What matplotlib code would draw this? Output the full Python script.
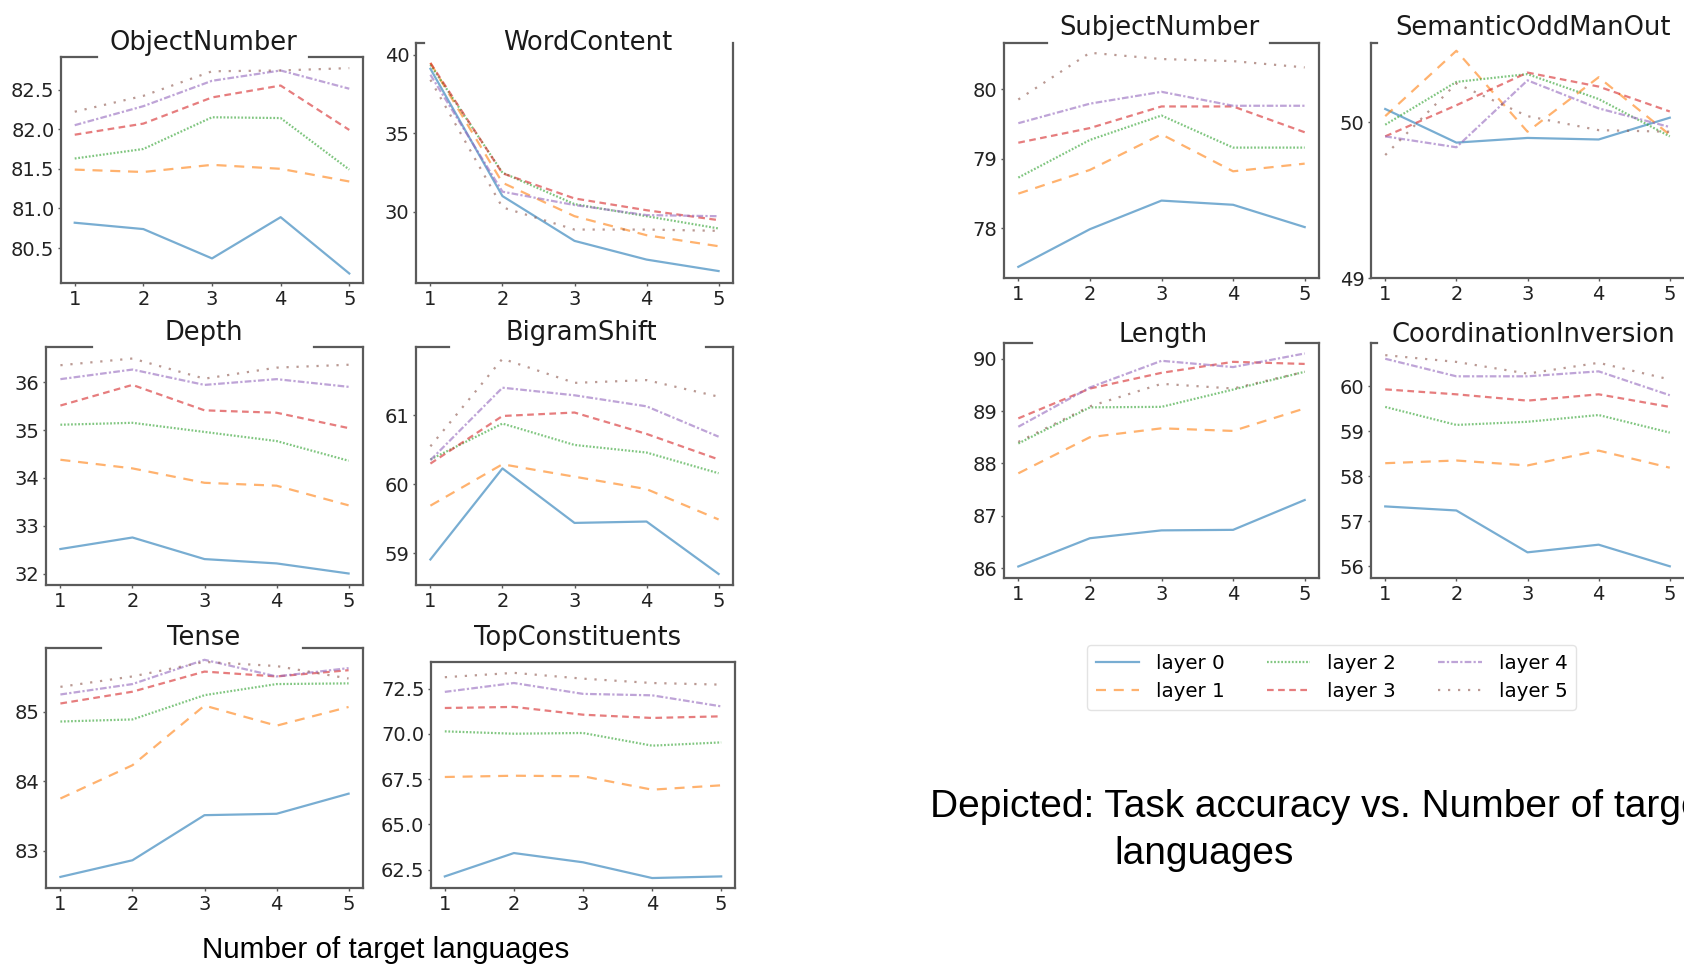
import matplotlib
matplotlib.use("Agg")
import matplotlib.pyplot as plt
from matplotlib.lines import Line2D

W, H, DPI = 1684, 967, 100

X = [1, 2, 3, 4, 5]
LAYERS = ["layer 0", "layer 1", "layer 2", "layer 3", "layer 4", "layer 5"]

OBJECT_NUMBER = [
    [80.82, 80.74, 80.37, 80.89, 80.18],
    [81.49, 81.46, 81.55, 81.50, 81.34],
    [81.63, 81.75, 82.15, 82.14, 81.49],
    [81.93, 82.07, 82.40, 82.55, 81.99],
    [82.05, 82.29, 82.61, 82.74, 82.51],
    [82.22, 82.42, 82.73, 82.74, 82.77],
]
WORD_CONTENT = [
    [39.10, 31.00, 28.15, 26.96, 26.23],
    [39.47, 31.85, 29.72, 28.51, 27.81],
    [39.36, 32.49, 30.49, 29.72, 28.94],
    [39.47, 32.45, 30.85, 30.10, 29.47],
    [38.72, 31.28, 30.43, 29.79, 29.72],
    [38.40, 30.28, 28.87, 28.87, 28.79],
]
DEPTH = [
    [32.52, 32.76, 32.31, 32.22, 32.01],
    [34.38, 34.20, 33.90, 33.84, 33.43],
    [35.11, 35.15, 34.96, 34.77, 34.36],
    [35.51, 35.94, 35.41, 35.36, 35.04],
    [36.06, 36.26, 35.94, 36.06, 35.90],
    [36.35, 36.49, 36.07, 36.30, 36.36],
]
BIGRAM_SHIFT = [
    [58.91, 60.23, 59.44, 59.46, 58.70],
    [59.69, 60.29, 60.11, 59.93, 59.49],
    [60.36, 60.88, 60.57, 60.46, 60.16],
    [60.30, 60.99, 61.04, 60.73, 60.36],
    [60.35, 61.40, 61.29, 61.13, 60.69],
    [60.55, 61.82, 61.47, 61.51, 61.27],
]
TENSE = [
    [82.62, 82.86, 83.51, 83.53, 83.82],
    [83.75, 84.23, 85.09, 84.80, 85.07],
    [84.86, 84.89, 85.24, 85.40, 85.41],
    [85.12, 85.29, 85.58, 85.51, 85.60],
    [85.25, 85.40, 85.75, 85.51, 85.63],
    [85.36, 85.51, 85.72, 85.66, 85.48],
]
TOP_CONSTITUENTS = [
    [62.13, 63.42, 62.91, 62.04, 62.13],
    [67.62, 67.69, 67.66, 66.92, 67.16],
    [70.14, 70.01, 70.05, 69.35, 69.53],
    [71.43, 71.49, 71.06, 70.88, 70.97],
    [72.32, 72.81, 72.21, 72.13, 71.52],
    [73.13, 73.37, 73.05, 72.81, 72.72],
]
SUBJECT_NUMBER = [
    [77.45, 77.99, 78.40, 78.34, 78.02],
    [78.50, 78.84, 79.35, 78.82, 78.93],
    [78.73, 79.27, 79.62, 79.16, 79.16],
    [79.23, 79.44, 79.75, 79.75, 79.38],
    [79.51, 79.79, 79.96, 79.76, 79.76],
    [79.85, 80.52, 80.43, 80.40, 80.31],
]
SEMANTIC_ODD_MAN_OUT = [
    [50.086, 49.87, 49.90, 49.89, 50.03],
    [50.04, 50.46, 49.94, 50.29, 49.92],
    [49.985, 50.26, 50.31, 50.15, 49.91],
    [49.91, 50.11, 50.32, 50.23, 50.07],
    [49.91, 49.84, 50.27, 50.09, 49.97],
    [49.79, 50.25, 50.04, 49.95, 49.94],
]
LENGTH = [
    [86.03, 86.57, 86.72, 86.73, 87.30],
    [87.81, 88.50, 88.67, 88.62, 89.05],
    [88.38, 89.07, 89.08, 89.41, 89.75],
    [88.86, 89.43, 89.73, 89.94, 89.90],
    [88.70, 89.45, 89.96, 89.84, 90.10],
    [88.41, 89.09, 89.52, 89.43, 89.75],
]
COORDINATION_INVERSION = [
    [57.33, 57.24, 56.31, 56.48, 56.00],
    [58.29, 58.35, 58.24, 58.57, 58.19],
    [59.54, 59.14, 59.21, 59.36, 58.97],
    [59.93, 59.82, 59.68, 59.82, 59.54],
    [60.61, 60.22, 60.22, 60.33, 59.80],
    [60.69, 60.54, 60.28, 60.52, 60.15],
]

# tick labels per panel
TICKS_OBJECT_NUMBER = [80.5, 81.0, 81.5, 82.0, 82.5]
TICKS_WORD_CONTENT = [30, 35, 40]
TICKS_DEPTH = [32, 33, 34, 35, 36]
TICKS_BIGRAM_SHIFT = [59, 60, 61]
TICKS_TENSE = [83, 84, 85]
TICKS_TOP_CONSTITUENTS = [62.5, 65.0, 67.5, 70.0, 72.5]
TICKS_SUBJECT_NUMBER = [78, 79, 80]
TICKS_SEMANTIC = [49, 50]
TICKS_LENGTH = [86, 87, 88, 89, 90]
TICKS_COORD = [56, 57, 58, 59, 60]

# styling
COLORS = ["#1f77b4", "#ff7f0e", "#2ca02c", "#d62728", "#9467bd", "#8c564b"]
DASHES = [None, (4.5, 3.5), (0.8, 0.8), (3, 2), (3, 1, 1, 1), (1, 3.5)]
LINE_ALPHA = 0.6
SPINE_COLOR = "#5a5a5a"

# layout: (title, data, ticks, ylim, box px (l, t, r, b), title (cx, baseline), top spine gap (a, b) or None, right spine)
PANELS = [
    ("ObjectNumber", OBJECT_NUMBER, TICKS_OBJECT_NUMBER, (80.06, 82.91),
     (61, 57, 363, 283), (203, 50), (0.118, 0.821), True),
    ("WordContent", WORD_CONTENT, TICKS_WORD_CONTENT, (25.47, 40.74),
     (416, 43, 733, 283), (588, 50), (0.025, 1.0), True),
    ("Depth", DEPTH, TICKS_DEPTH, (31.77, 36.73),
     (46, 347, 363, 585), (204, 340), (0.145, 0.845), True),
    ("BigramShift", BIGRAM_SHIFT, TICKS_BIGRAM_SHIFT, (58.54, 61.99),
     (416, 347, 733, 585), (581, 340), (0.104, 0.915), True),
    ("Tense", TENSE, TICKS_TENSE, (82.46, 85.92),
     (46, 648, 363, 888), (204, 645), (0.173, 0.811), True),
    ("TopConstituents", TOP_CONSTITUENTS, TICKS_TOP_CONSTITUENTS, (61.49, 73.97),
     (431, 662, 735, 888), (578, 645), None, True),
    ("SubjectNumber", SUBJECT_NUMBER, TICKS_SUBJECT_NUMBER, (77.29, 80.66),
     (1004, 43, 1319, 278), (1159, 35), (0.137, 0.844), True),
    ("SemanticOddManOut", SEMANTIC_ODD_MAN_OUT, TICKS_SEMANTIC, (49.0, 50.51),
     (1371, 43, 1684, 278), (1533, 35), (0.02, 1.0), False),
    ("Length", LENGTH, TICKS_LENGTH, (85.81, 90.30),
     (1004, 343, 1319, 578), (1163, 342), (0.089, 0.895), True),
    ("CoordinationInversion", COORDINATION_INVERSION, TICKS_COORD, (55.74, 60.96),
     (1371, 343, 1684, 578), (1533, 342), (0.02, 1.0), False),
]

plt.rcParams["font.family"] = ["DejaVu Sans"]

fig = plt.figure(figsize=(W / DPI, H / DPI), dpi=DPI)
fig.patch.set_facecolor("white")


def fx(px):
    return px / W


def fy(py):
    return 1 - py / H


handles = None
for title, data, ticks, ylim, box, tpos, gap, right in PANELS:
    l, t, r, b = box
    ax = fig.add_axes([fx(l), fy(b), fx(r) - fx(l), (b - t) / H])
    lines = []
    for i, series in enumerate(data):
        ln, = ax.plot(X, series, color=COLORS[i], alpha=LINE_ALPHA, lw=1.6,
                      label=LAYERS[i])
        if DASHES[i] is not None:
            ln.set_dashes(DASHES[i])
        lines.append(ln)
    if handles is None:
        handles = lines
    ax.set_xticks(X)
    ax.set_yticks(ticks)
    ax.set_ylim(*ylim)
    ax.set_xlim(0.8, 5.2)
    ax.tick_params(labelsize=14, length=2.5, width=1, pad=2.2,
                   color=SPINE_COLOR, labelcolor="#222222")
    for s in ax.spines.values():
        s.set_color(SPINE_COLOR)
        s.set_linewidth(1.6)
    if gap is not None:
        ax.spines["top"].set_visible(False)
        ga, gb = gap
        if ga > 0:
            ax.add_line(Line2D([0, ga], [1, 1], transform=ax.transAxes, clip_on=False,
                               color=SPINE_COLOR, lw=1.6))
        if gb < 1:
            ax.add_line(Line2D([gb, 1], [1, 1], transform=ax.transAxes, clip_on=False,
                               color=SPINE_COLOR, lw=1.6))
    if not right:
        ax.spines["right"].set_visible(False)
    fig.text(fx(tpos[0]), fy(tpos[1]), title, ha="center", va="baseline",
             fontsize=18.5, color="#1a1a1a")

fig.legend(handles, LAYERS, loc="center", bbox_to_anchor=(fx(1331.5), fy(677.5)),
           ncol=3, fontsize=14.3, handlelength=2.2, handletextpad=0.85,
           columnspacing=2.1, labelspacing=0.45, borderpad=0.45,
           frameon=True, fancybox=True, edgecolor="#dddddd")

fig.text(fx(930), fy(817), "Depicted: Task accuracy vs. Number of target",
         ha="left", va="baseline", fontsize=28, family=["Liberation Sans", "DejaVu Sans"])
fig.text(fx(1114), fy(864), "languages", ha="left", va="baseline", fontsize=28,
         family=["Liberation Sans", "DejaVu Sans"])
fig.text(fx(386), fy(958), "Number of target languages", ha="center", va="baseline",
         fontsize=21.3, family=["Liberation Sans", "DejaVu Sans"])

fig.savefig("out.png", dpi=DPI, facecolor="white")
